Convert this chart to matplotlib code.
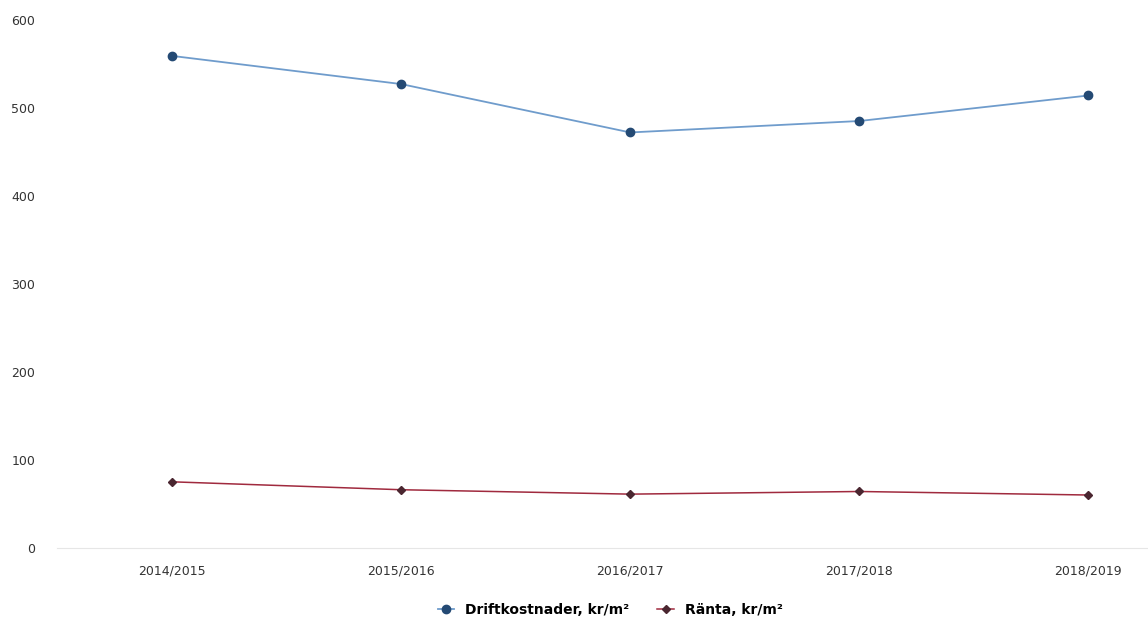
import matplotlib
matplotlib.use("Agg")
import matplotlib.pyplot as plt

# data
years = ['2014/2015', '2015/2016', '2016/2017', '2017/2018', '2018/2019']
drift = [559, 527, 472, 485, 514]
ranta = [75, 66, 61, 64, 60]
y_ticks = [0, 100, 200, 300, 400, 500, 600]

fig = plt.figure(figsize=(11.48, 6.19), dpi=100)
ax = fig.add_axes([0.05, 0.115, 0.95, 0.853])

x = list(range(len(years)))
ax.plot(x, drift, color='#6f9ccc', linewidth=1.3, marker='o', markersize=6,
        markerfacecolor='#244a74', markeredgecolor='#244a74',
        label='Driftkostnader, kr/m²')
ax.plot(x, ranta, color='#a02a3e', linewidth=1.1, marker='D', markersize=4.5,
        markerfacecolor='#4a2630', markeredgecolor='#4a2630',
        label='Ränta, kr/m²')

ax.set_xlim(-0.5, 4.26)
ax.set_ylim(0, 600)
ax.set_xticks(x)
ax.set_xticklabels(years)
ax.set_yticks(y_ticks)
ax.tick_params(axis='both', length=0, labelsize=9, colors='#333333')
ax.tick_params(axis='x', pad=12)
ax.tick_params(axis='y', pad=16)

for s in ['top', 'right', 'left']:
    ax.spines[s].set_visible(False)
ax.spines['bottom'].set_color('#e6e6e6')

leg = ax.legend(loc='upper center', bbox_to_anchor=(0.507, -0.08), ncol=2,
                frameon=False, handlelength=1.2, columnspacing=2.0,
                prop={'weight': 'bold', 'size': 10})

fig.savefig('out.png', dpi=100)
